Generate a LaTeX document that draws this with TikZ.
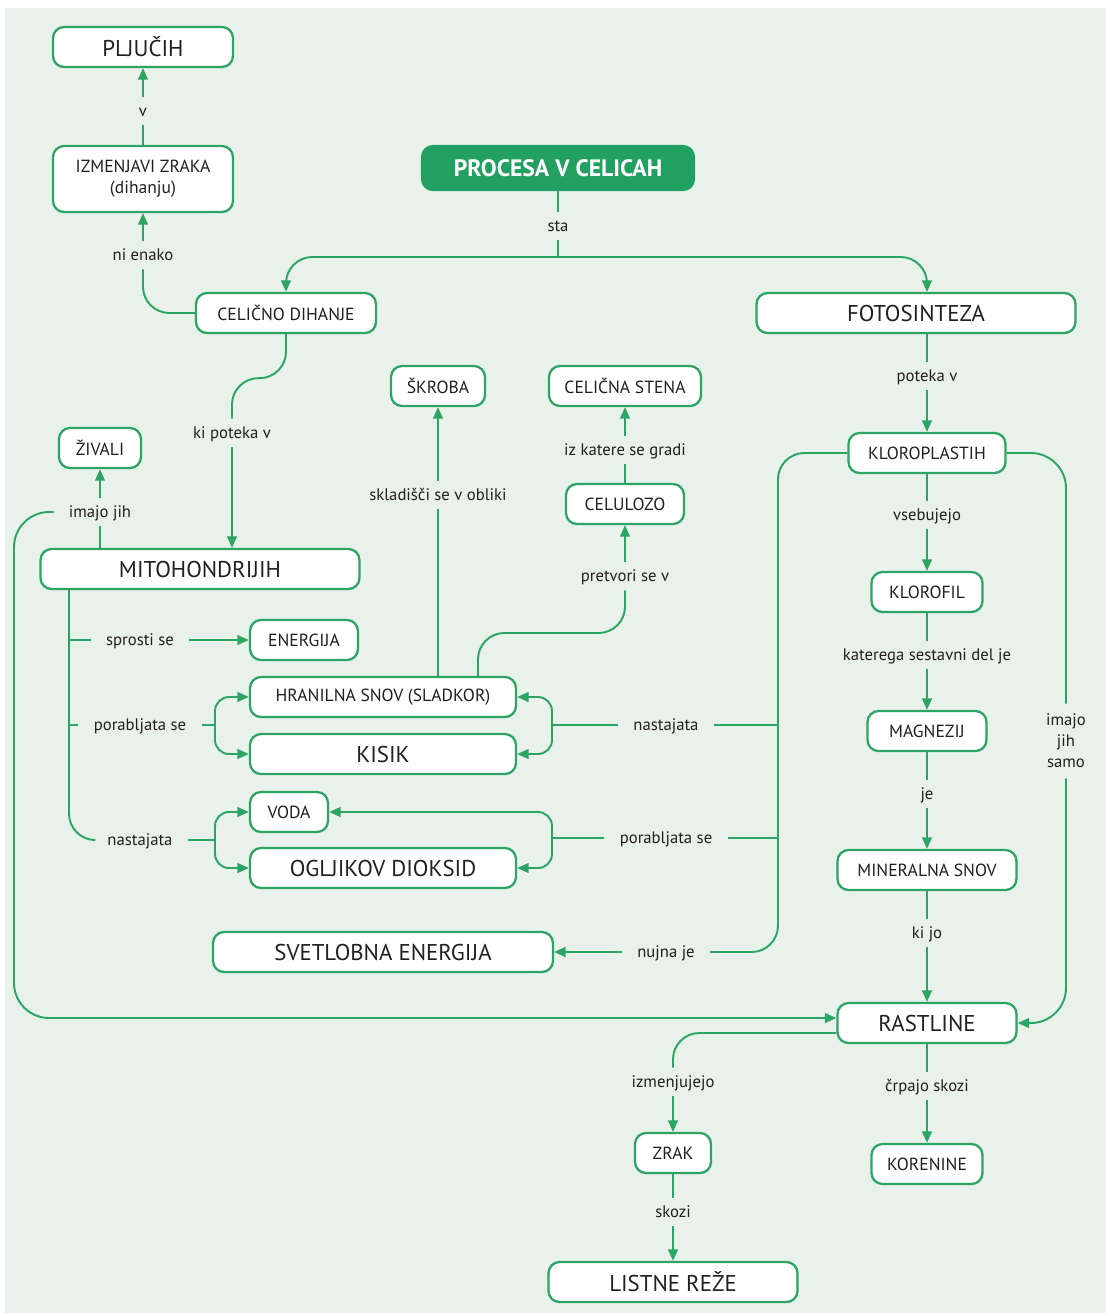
\documentclass[tikz,border=0pt]{standalone}
\usepackage{fontspec}
\setmainfont{PT Sans}
\usepackage{tikz}
\usetikzlibrary{arrows.meta}

\definecolor{bgcol}{RGB}{232,241,234}
\definecolor{grn}{RGB}{44,165,100}
\definecolor{titlegrn}{RGB}{34,160,98}
\definecolor{txt}{RGB}{35,31,32}

\begin{document}
\begin{tikzpicture}[x=0.02cm, y=-0.02cm,
    box/.style={draw=grn, line width=1.3pt, fill=white, rounded corners=0.22cm,
        minimum height=0.8cm, inner sep=2pt, text=txt, font=\fontsize{10}{12}\selectfont},
    bigbox/.style={box, font=\fontsize{13}{15}\selectfont},
    titlebox/.style={box, draw=titlegrn, fill=titlegrn, text=white,
        minimum height=0.88cm, font=\bfseries\fontsize{13.5}{16}\selectfont},
    lbltext/.style={inner xsep=0.3cm, inner ysep=0.12cm, text=txt, align=center,
        font=\fontsize{9.5}{12}\selectfont},
    lbl/.style={lbltext, text height=1.5ex, text depth=0.35ex},
    link/.style={draw=grn, line width=1.1pt},
    arr/.style={link, -{Triangle[length=6.5pt, width=5.5pt]}}]

    \useasboundingbox (0,0) rectangle (1106,1313);
    \fill[white] (0,0) rectangle (1106,1313);
    \fill[bgcol] (5,8) rectangle (1106,1313);

    % Define nodes
    \node[bigbox, minimum width=3.6cm] (plj) at (143,47) {PLJUČIH};
    \node[box, minimum width=3.6cm, minimum height=1.32cm, align=center] (izm) at (143,179) {IZMENJAVI ZRAKA\\(dihanju)};
    \node[titlebox, minimum width=5.44cm] (proc) at (558,168) {PROCESA V CELICAH};
    \node[box, minimum width=3.6cm] (cd) at (286,313) {CELIČNO DIHANJE};
    \node[bigbox, minimum width=6.38cm] (foto) at (916,313) {FOTOSINTEZA};
    \node[box, minimum width=1.88cm] (skrob) at (438,386) {ŠKROBA};
    \node[box, minimum width=3.04cm] (cst) at (625,386) {CELIČNA STENA};
    \node[box, minimum width=1.64cm] (ziv) at (100,448) {ŽIVALI};
    \node[box, minimum width=3.14cm] (klp) at (927,453) {KLOROPLASTIH};
    \node[box, minimum width=2.36cm] (cel) at (625,504) {CELULOZO};
    \node[bigbox, minimum width=6.38cm] (mito) at (200,569) {MITOHONDRIJIH};
    \node[box, minimum width=2.22cm] (klf) at (927,592) {KLOROFIL};
    \node[box, minimum width=2.16cm] (energ) at (304,640) {ENERGIJA};
    \node[box, minimum width=5.32cm] (hran) at (383,697) {HRANILNA SNOV (SLADKOR)};
    \node[bigbox, minimum width=5.32cm] (kisik) at (383,754) {KISIK};
    \node[box, minimum width=2.38cm] (mag) at (927,731) {MAGNEZIJ};
    \node[box, minimum width=1.56cm] (voda) at (289,812) {VODA};
    \node[bigbox, minimum width=5.32cm] (co2) at (383,868) {OGLJIKOV DIOKSID};
    \node[box, minimum width=3.58cm] (min) at (927,870) {MINERALNA SNOV};
    \node[bigbox, minimum width=6.8cm] (svet) at (383,952) {SVETLOBNA ENERGIJA};
    \node[bigbox, minimum width=3.58cm] (rast) at (927,1023) {RASTLINE};
    \node[box, minimum width=1.52cm] (zrak) at (673,1153) {ZRAK};
    \node[box, minimum width=2.22cm] (kor) at (927,1164) {KORENINE};
    \node[bigbox, minimum width=4.98cm] (rez) at (673,1282) {LISTNE REŽE};

    % Labels
    \node[lbl] (lv) at (143,111) {v};
    \node[lbl] (lni) at (143,255) {ni enako};
    \node[lbl] (lsta) at (558,226) {sta};
    \node[lbl] (lki) at (232,433) {ki poteka v};
    \node[lbl] (lim) at (100,512) {imajo jih};
    \node[lbl] (lspr) at (140,640) {sprosti se};
    \node[lbl] (lpor1) at (140,725) {porabljata se};
    \node[lbl] (lnast1) at (140,840) {nastajata};
    \node[lbl] (lskl) at (438,495) {skladišči se v obliki};
    \node[lbl] (liz) at (625,450) {iz katere se gradi};
    \node[lbl] (lpre) at (625,576) {pretvori se v};
    \node[lbl] (lnast2) at (666,725) {nastajata};
    \node[lbl] (lpor2) at (666,838) {porabljata se};
    \node[lbl] (lnuj) at (666,952) {nujna je};
    \node[lbl] (lpot) at (927,376) {poteka v};
    \node[lbl] (lvs) at (927,515) {vsebujejo};
    \node[lbl] (lkat) at (927,655) {katerega sestavni del je};
    \node[lbl] (lje) at (927,794) {je};
    \node[lbl] (lkj) at (927,933) {ki jo};
    \node[lbltext, inner ysep=0.2cm] (limj) at (1066,741) {imajo\\jih\\samo};
    \node[lbl] (lizm) at (673,1082) {izmenjujejo};
    \node[lbl] (lsk) at (673,1212) {skozi};
    \node[lbl] (lcr) at (927,1086) {črpajo skozi};

    \coordinate (split) at (558,257);
    \coordinate (lc) at (14,760);
    \coordinate (tr) at (69,840);
    \coordinate (p1) at (215,725);
    \coordinate (n1) at (215,840);
    \coordinate (b1) at (552,725);
    \coordinate (b2) at (552,838);
    \coordinate (kv) at (778,952);
    \coordinate (c1) at (625,633);

    % Draw edges
    \draw[link] (izm) -- (lv);
    \draw[arr] (lv) -- (plj);
    \draw[link, rounded corners=15] (cd.west) -| (lni);
    \draw[arr] (lni) -- (izm);

    \draw[link] (proc) -- (lsta);
    \draw[link] (lsta) -- (split);
    \draw[arr, rounded corners=15] (split) -| (cd);
    \draw[arr, rounded corners=15] (split) -| (foto.north -| klp);

    \draw[link, rounded corners=15] (cd.south) -- ++(0,44) -| (lki);
    \draw[arr] (lki) -- (lki |- mito.north);

    \draw[link] (lim |- mito.north) -- (lim);
    \draw[arr] (lim) -- (ziv);
    \draw[arr, rounded corners=20] (lim.west) -| (lc) |- ([yshift=0.1cm]rast.west);

    \draw[link, rounded corners=15] (mito.south -| tr) |- (lnast1);
    \draw[link] (lspr -| tr) -- (lspr);
    \draw[link] (lpor1 -| tr) -- (lpor1);
    \draw[arr] (lspr) -- (energ);
    \draw[link] (lpor1) -- (p1);
    \draw[arr, rounded corners=8] (p1) |- (hran);
    \draw[arr, rounded corners=8] (p1) |- (kisik);
    \draw[link] (lnast1) -- (n1);
    \draw[arr, rounded corners=8] (n1) |- (voda);
    \draw[arr, rounded corners=8] (n1) |- (co2);

    \draw[link, rounded corners=15] (klp) -| (kv) -- (lnuj);
    \draw[arr] (lnuj) -- (svet);
    \draw[link] (lnast2) -- (lnast2 -| kv);
    \draw[link] (b1) -- (lnast2);
    \draw[arr, rounded corners=8] (b1) |- (hran);
    \draw[arr, rounded corners=8] (b1) |- (kisik);
    \draw[link] (lpor2) -- (lpor2 -| kv);
    \draw[link] (b2) -- (lpor2);
    \draw[arr, rounded corners=8] (b2) |- (voda);
    \draw[arr, rounded corners=8] (b2) |- (co2);

    \draw[link] (hran.north -| lskl) -- (lskl);
    \draw[arr] (lskl) -- (skrob);
    \draw[link, rounded corners=15] (hran.north -| 478,0) |- (c1) -- (lpre);
    \draw[arr] (lpre) -- (cel);
    \draw[link] (cel) -- (liz);
    \draw[arr] (liz) -- (cst);

    \draw[link] (foto.south -| klp) -- (lpot);
    \draw[arr] (lpot) -- (klp);
    \draw[link] (klp) -- (lvs);
    \draw[arr] (lvs) -- (klf);
    \draw[link] (klf) -- (lkat);
    \draw[arr] (lkat) -- (mag);
    \draw[link] (mag) -- (lje);
    \draw[arr] (lje) -- (min);
    \draw[link] (min) -- (lkj);
    \draw[arr] (lkj) -- (rast);
    \draw[link, rounded corners=20] (klp) -| (limj);
    \draw[arr, rounded corners=20] (limj) |- (rast);

    \draw[link, rounded corners=15] ([yshift=-0.2cm]rast.west) -| (lizm);
    \draw[arr] (lizm) -- (zrak);
    \draw[link] (zrak) -- (lsk);
    \draw[arr] (lsk) -- (rez);
    \draw[link] (rast) -- (lcr);
    \draw[arr] (lcr) -- (kor);
\end{tikzpicture}
\end{document}
